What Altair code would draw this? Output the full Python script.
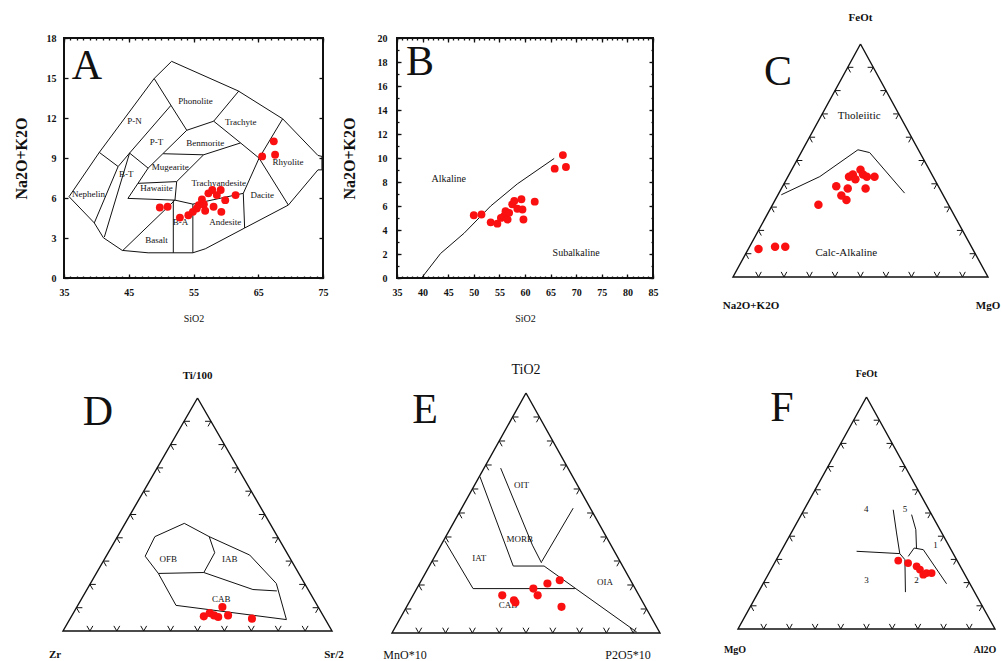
import altair as alt
import pandas as pd

FONT = "Liberation Serif"
RED = "#fa1010"
INK = "#111111"

# ---------------- A : TAS diagram (SiO2 vs Na2O+K2O) ----------------
a_sio2 = [49.8, 51.0, 52.9, 54.2, 54.9, 55.5, 55.8, 56.3, 56.6, 56.8, 57.3, 57.9,
          58.1, 58.6, 59.2, 59.3, 59.9, 61.5, 65.6, 67.4, 67.6]
a_alk = [5.29, 5.34, 4.53, 4.71, 4.96, 5.21, 5.47, 5.89, 5.54, 5.04, 6.35, 6.60,
         5.34, 6.22, 6.60, 4.96, 5.84, 6.22, 9.12, 10.25, 9.24]
a_xticks = [35, 45, 55, 65, 75]
a_yticks = [0, 3, 6, 9, 12, 15, 18]
a_xminor = list(range(35, 76))
a_yminor = []
tas_outline = [(35.78, 6.10), (40.45, 9.42), (48.92, 14.96), (51.62, 16.25), (61.91, 14.03),
               (68.77, 11.94), (74.22, 9.19), (74.84, 9.12), (74.84, 8.11), (74.22, 8.11),
               (69.65, 5.47), (62.90, 3.75), (56.82, 2.19), (54.90, 1.89), (47.99, 1.89),
               (43.99, 2.07), (41.08, 3.02), (39.68, 4.13), (35.78, 6.10)]
tas_bounds = [
    [(40.45, 9.42), (43.36, 8.36), (39.68, 4.13)],
    [(43.36, 8.36), (45.13, 9.37), (51.52, 12.95)],
    [(48.92, 14.96), (51.52, 12.95), (53.96, 11.08)],
    [(45.13, 9.37), (41.23, 3.07)],
    [(45.13, 9.37), (47.99, 8.24)],
    [(53.96, 11.08), (58.12, 11.76), (62.01, 14.03)],
    [(47.99, 8.24), (53.96, 11.08)],
    [(50.32, 9.32), (56.56, 9.24), (62.27, 10.13)],
    [(58.12, 11.76), (62.27, 10.13), (65.13, 8.99)],
    [(68.77, 11.94), (65.13, 8.99)],
    [(65.13, 8.99), (69.65, 5.47)],
    [(65.13, 8.99), (62.69, 6.35), (62.90, 3.75)],
    [(54.90, 5.54), (62.69, 6.35)],
    [(52.14, 5.84), (52.40, 7.23), (56.56, 9.24)],
    [(46.43, 7.10), (52.40, 7.23)],
    [(47.99, 8.24), (44.87, 5.97)],
    [(44.87, 5.97), (52.14, 5.84), (54.90, 5.54)],
    [(44.09, 2.07), (52.14, 5.84)],
    [(51.88, 5.84), (51.88, 1.89)],
    [(54.90, 5.54), (54.90, 1.89)],
]
tas_names = ["Phonolite", "Trachyte", "P-N", "P-T", "Benmorite", "Mugearite", "B-T",
             "Trachyandesite", "Hawaiite", "Nephelin", "Rhyolite", "Dacite", "Andesite",
             "B-A", "Basalt"]
tas_name_sio2 = [55.3, 62.3, 45.9, 49.3, 56.8, 51.4, 44.6, 58.9, 49.3, 38.8, 69.6, 65.6,
                 59.9, 53.0, 49.3]
tas_name_alk = [13.27, 11.7, 11.76, 10.18, 10.13, 8.29, 7.81, 7.15, 6.73, 6.3, 8.69, 6.22,
                4.21, 4.21, 2.82]

# ---------------- B : Alkaline / Subalkaline ----------------
b_sio2 = [50.0, 51.5, 53.3, 54.6, 55.3, 55.9, 56.2, 56.6, 56.9, 57.5, 57.9, 58.5, 59.3,
          59.5, 59.7, 61.9, 65.8, 67.4, 68.0]
b_alk = [5.23, 5.29, 4.64, 4.53, 5.01, 5.15, 5.57, 4.87, 5.43, 6.14, 6.42, 5.77, 6.56,
         5.71, 4.87, 6.36, 9.11, 10.24, 9.25]
b_xticks = [35, 40, 45, 50, 55, 60, 65, 70, 75, 80, 85]
b_yticks = [0, 2, 4, 6, 8, 10, 12, 14, 16, 18, 20]
b_xminor = list(range(35, 86))
b_yminor = list(range(0, 21))
ib_sio2 = [39.8, 43.5, 48.1, 53.3, 58.5, 65.7]
ib_alk = [0.0, 2.04, 3.73, 6.0, 7.84, 9.96]
b_names = ["Alkaline", "Subalkaline"]
b_name_sio2 = [45.1, 70.0]
b_name_alk = [8.26, 2.12]

# ---------------- Ternary data: (top, left, right) in % ----------------
tern_ticks = [0.1, 0.2, 0.3, 0.4, 0.5, 0.6, 0.7, 0.8, 0.9]

# C : AFM  (FeOt, Na2O+K2O, MgO)
c_points = [(12, 84, 4), (13, 77, 10), (13, 73, 14), (31, 51, 18), (39, 40, 21), (38, 36, 26),
            (35, 40, 25), (33, 39, 28), (43, 33, 24), (44, 31, 25), (42, 31, 27), (46, 27, 27),
            (44, 27, 29), (43, 26, 31), (43, 23, 34), (38, 29, 33)]
c_bounds = [[(35.3, 63.4, 1.3), (43.1, 44.4, 12.5), (54.6, 23.7, 21.7), (53.4, 19.7, 26.9),
             (36.0, 14.7, 49.3)]]
c_names = [("Tholeiitic", 69, 16, 15), ("Calc-Alkaline", 10.3, 50.4, 39.3)]

# D : Ti/100 - Zr - Sr/2
d_points = [(6.3, 44.5, 49.2), (7.7, 41.6, 50.7), (6.7, 40.5, 52.8), (6.0, 39.3, 54.7),
            (10.3, 35.6, 54.1), (6.7, 35.3, 58.0), (5.3, 27.1, 67.6)]
d_bounds = [
    [(32.1, 53.4, 14.5), (40.5, 45.6, 13.9), (46.2, 31.8, 22.0), (40.5, 25.4, 34.1),
     (33.6, 26.8, 39.6), (25.1, 35.1, 39.8), (24.7, 52.2, 23.1), (32.1, 53.4, 14.5)],
    [(40.5, 25.4, 34.1), (32.6, 14.3, 53.1), (20.4, 10.5, 69.1), (4.9, 14.5, 80.6)],
    [(25.1, 35.1, 39.8), (17.8, 20.5, 61.7), (17.2, 11.9, 70.9)],
    [(24.7, 52.2, 23.1), (11.0, 52.5, 36.5), (4.9, 14.5, 80.6)],
]
d_names = [("OFB", 31.1, 45.3, 23.6), ("IAB", 31.1, 22.5, 46.4), ("CAB", 13.9, 34.2, 51.9)]

# E : TiO2 - MnO*10 - P2O5*10
e_points = [(15.7, 51.0, 33.3), (13.6, 47.7, 38.7), (12.7, 47.6, 39.7), (18.5, 38.0, 43.5),
            (15.7, 37.8, 46.5), (20.6, 31.7, 47.7), (22.0, 26.4, 51.6), (10.9, 31.3, 57.8)]
e_bounds = [
    [(38.4, 61.1, 0.5), (18.5, 60.5, 21.0), (18.5, 22.5, 59.0)],
    [(65.2, 34.6, 0.2), (27.9, 40.8, 31.3), (27.9, 29.3, 42.8), (0.4, 8.5, 91.1)],
    [(68.7, 25.1, 6.2), (36.6, 29.3, 34.1), (29.2, 29.6, 41.2)],
    [(52.0, 6.4, 41.6), (29.7, 29.3, 41.0)],
]
e_names = [("OIT", 61.7, 20.8, 17.5), ("MORB", 39.0, 32.8, 28.2), ("IAT", 31.1, 51.9, 17.0),
           ("OIA", 21.3, 9.9, 68.8), ("CAB", 11.6, 50.9, 37.5)]

# F : FeOt - MgO - Al2O3
f_points = [(29.5, 22.9, 47.6), (28.4, 19.6, 52.0), (27.0, 17.0, 56.0), (25.6, 16.4, 58.0),
            (23.4, 16.2, 60.4), (24.1, 14.6, 61.3), (24.1, 12.6, 63.3)]
f_bounds = [
    [(33.5, 37.1, 29.4), (32.5, 20.8, 46.7)],
    [(51.4, 13.9, 34.7), (41.4, 17.6, 41.0), (32.5, 20.8, 46.7), (29.9, 20.1, 50.0),
     (15.9, 26.9, 57.2)],
    [(49.3, 7.8, 42.9), (42.8, 9.4, 47.8), (34.9, 13.1, 52.0)],
    [(31.3, 18.1, 50.6), (34.9, 14.0, 51.1), (34.2, 10.8, 55.0), (19.5, 9.1, 71.4)],
]
f_names = [("4", 51.7, 24.2, 24.1), ("5", 51.7, 9.2, 39.1), ("1", 36.4, 4.9, 58.7),
           ("3", 21.3, 39.3, 39.4), ("2", 21.3, 19.9, 58.8)]


# ---------------- helpers ----------------
def tern_xy(p):
    t, l, r = p
    s = t + l + r
    return (r + t / 2) / s, t / s


def line_frame(lines, conv):
    rows = []
    for i, pts in enumerate(lines):
        for j, p in enumerate(pts):
            x, y = conv(p)
            rows.append({"line": i, "ord": j, "x": x, "y": y})
    return pd.DataFrame(rows)


def tick_axes(xsc, ysc, xdom, ydom, xvals, yvals, xorient, yorient, size):
    """Invisible layer whose only purpose is an inward-ticked axis pair."""
    common = dict(labels=False, offset=-size, tickSize=size, tickColor=INK, tickWidth=1.3,
                  domain=False, grid=False, title="")
    return alt.Chart(pd.DataFrame({"x": [xdom[0]], "y": [ydom[0]]})).mark_point(
        opacity=0).encode(
        x=alt.X("x:Q", scale=xsc, axis=alt.Axis(orient=xorient, values=xvals, **common)),
        y=alt.Y("y:Q", scale=ysc, axis=alt.Axis(orient=yorient, values=yvals, **common)))


def xy_panel(width, height, xdom, ydom, xticks, yticks, xminor, yminor, xs, ys, lines,
             names, nx, ny, letter, letter_xy, ylabpad, ytitlepad, name_size):
    xsc = alt.Scale(domain=xdom, nice=False, zero=False)
    ysc = alt.Scale(domain=ydom, nice=False, zero=False)
    X = alt.X("x:Q", scale=xsc,
              axis=alt.Axis(values=xticks, offset=-4, tickSize=4, tickColor=INK, tickWidth=1.3,
                            domain=False, grid=False, labelFont=FONT, labelFontSize=10,
                            labelFontWeight="bold", labelColor=INK, labelPadding=9,
                            labelFlush=False, labelOverlap=False, title="SiO2",
                            titleFont=FONT, titleFontSize=10, titleFontWeight="normal",
                            titleColor=INK, titlePadding=16))
    Y = alt.Y("y:Q", scale=ysc,
              axis=alt.Axis(values=yticks, offset=-4, tickSize=4, tickColor=INK, tickWidth=1.3,
                            domain=False, grid=False, labelFont=FONT, labelFontSize=10,
                            labelFontWeight="bold", labelColor=INK, labelPadding=ylabpad,
                            labelFlush=False, labelOverlap=False, title="Na2O+K2O",
                            titleFont=FONT, titleFontSize=16, titleFontWeight="bold",
                            titleColor=INK, titlePadding=ytitlepad))
    ldf = line_frame(lines, lambda p: p)
    lay_lines = alt.Chart(ldf).mark_line(color=INK, strokeWidth=1).encode(
        x=X, y=Y, detail="line:N", order=alt.Order("ord:Q"))
    ndf = pd.DataFrame({"name": names, "x": nx, "y": ny})
    lay_names = alt.Chart(ndf).mark_text(font=FONT, fontSize=name_size, color=INK).encode(
        x=X, y=Y, text="name:N")
    pdf = pd.DataFrame({"x": xs, "y": ys})
    lay_pts = alt.Chart(pdf).mark_point(filled=True, shape="circle", size=62, color=RED,
                                        opacity=1).encode(x=X, y=Y)
    lay_letter = alt.Chart(pd.DataFrame({"t": [letter]})).mark_text(
        font=FONT, fontSize=42, color=INK, align="center", baseline="middle").encode(
        x=alt.value(letter_xy[0]), y=alt.value(letter_xy[1]), text="t:N")
    inner = alt.layer(lay_lines, lay_names, lay_pts, lay_letter)
    major_tr = tick_axes(xsc, ysc, xdom, ydom, xticks, yticks, "top", "right", 4)
    minor_bl = tick_axes(xsc, ysc, xdom, ydom, xminor, yminor, "bottom", "left", 2)
    minor_tr = tick_axes(xsc, ysc, xdom, ydom, xminor, yminor, "top", "right", 2)
    return alt.layer(inner, major_tr, minor_bl, minor_tr).resolve_scale(
        x="independent", y="independent").properties(
        width=width, height=height, view=alt.ViewBackground(stroke=INK, strokeWidth=2))


def tern_panel(width, height, xdom, ydom, bounds, pts, names, corners, letter, letter_xy,
               psize, nsize):
    X = alt.X("x:Q", scale=alt.Scale(domain=xdom, nice=False, zero=False), axis=None)
    Y = alt.Y("y:Q", scale=alt.Scale(domain=ydom, nice=False, zero=False), axis=None)
    edge = line_frame([[(100, 0, 0), (0, 100, 0), (0, 0, 100), (100, 0, 0)]], tern_xy)
    lay_edge = alt.Chart(edge).mark_line(color=INK, strokeWidth=1.4).encode(
        x=X, y=Y, detail="line:N", order=alt.Order("ord:Q"))
    L = 0.022
    rows = []
    for t in tern_ticks:
        segs = [((0, 1 - t, t), (L, 1 - t - L, t)), ((0, 1 - t, t), (L, 1 - t, t - L)),
                ((t, 1 - t, 0), (t, 1 - t - L, L)), ((t, 1 - t, 0), (t - L, 1 - t, L)),
                ((t, 0, 1 - t), (t, L, 1 - t - L)), ((t, 0, 1 - t), (t - L, L, 1 - t))]
        for a, b in segs:
            x1, y1 = tern_xy(a)
            x2, y2 = tern_xy(b)
            rows.append({"x": x1, "y": y1, "x2": x2, "y2": y2})
    lay_ticks = alt.Chart(pd.DataFrame(rows)).mark_rule(color=INK, strokeWidth=1).encode(
        x=X, y=Y, x2="x2:Q", y2="y2:Q")
    lay_bounds = alt.Chart(line_frame(bounds, tern_xy)).mark_line(
        color=INK, strokeWidth=1).encode(x=X, y=Y, detail="line:N", order=alt.Order("ord:Q"))
    prow = [dict(zip(("x", "y"), tern_xy(p))) for p in pts]
    lay_pts = alt.Chart(pd.DataFrame(prow)).mark_point(
        filled=True, shape="circle", size=psize, color=RED, opacity=1).encode(x=X, y=Y)
    nrow = []
    for n in names:
        x, y = tern_xy(n[1:])
        nrow.append({"name": n[0], "x": x, "y": y})
    lay_names = alt.Chart(pd.DataFrame(nrow)).mark_text(
        font=FONT, fontSize=nsize, color=INK).encode(x=X, y=Y, text="name:N")
    layers = [lay_edge, lay_ticks, lay_bounds, lay_names, lay_pts]
    vertices = [(100, 0, 0), (0, 100, 0), (0, 0, 100)]
    for (txt, size, weight, dx, dy), v in zip(corners, vertices):
        x, y = tern_xy(v)
        layers.append(alt.Chart(pd.DataFrame({"name": [txt], "x": [x], "y": [y]})).mark_text(
            font=FONT, fontSize=size, fontWeight=weight, color=INK, dx=dx, dy=dy,
            baseline="middle").encode(x=X, y=Y, text="name:N"))
    layers.append(alt.Chart(pd.DataFrame({"t": [letter]})).mark_text(
        font=FONT, fontSize=42, color=INK, align="center", baseline="middle").encode(
        x=alt.value(letter_xy[0]), y=alt.value(letter_xy[1]), text="t:N"))
    return alt.layer(*layers).properties(width=width, height=height)


A = xy_panel(259, 240, [35, 75], [0, 18], a_xticks, a_yticks, a_xminor, a_yminor, a_sio2,
             a_alk, [tas_outline] + tas_bounds, tas_names, tas_name_sio2, tas_name_alk,
             "A", (23, 28), 8, 17, 9)
B = xy_panel(256, 240, [35, 85], [0, 20], b_xticks, b_yticks, b_xminor, b_yminor, b_sio2,
             b_alk, [list(zip(ib_sio2, ib_alk))], b_names, b_name_sio2, b_name_alk,
             "B", (23, 24), 10, 20, 10)
C = tern_panel(273, 240, [-0.0235, 1.0471], [-0.0043, 1.0258], c_bounds, c_points, c_names,
               [("FeOt", 11, "bold", 0, -26), ("Na2O+K2O", 11, "bold", 18, 29),
                ("MgO", 11, "bold", 0, 29)], "C", (51, 34), 72, 11)
D = tern_panel(259, 250, [0.0037, 0.9665], [-0.0386, 1.0343], d_bounds, d_points, d_names,
               [("Ti/100", 11, "bold", 0, -22), ("Zr", 11, "bold", -8, 24),
                ("Sr/2", 11, "bold", 2, 24)], "D", (34, 22), 66, 9)
E = tern_panel(256, 250, [0.0187, 0.9739], [-0.0292, 1.0125], e_bounds, e_points, e_names,
               [("TiO2", 14, "normal", 0, -23), ("MnO*10", 12, "normal", 13, 22),
                ("P2O5*10", 12, "normal", -32, 22)], "E", (28, 20), 66, 9)
F = tern_panel(273, 250, [-0.0428, 1.0195], [-0.0474, 1.0302], f_bounds, f_points, f_names,
               [("FeOt", 10, "bold", 0, -23), ("MgO", 10, "bold", -3, 21),
                ("Al2O", 10, "bold", -10, 21)], "F", (55, 18), 60, 9)

row1 = alt.hconcat(A, B, C, spacing=74, bounds="flush")
row2 = alt.hconcat(D, E, F, spacing=74, bounds="flush")
# with flush bounds the first row group counts as zero height, so the gap holds row 1's height
chart = alt.vconcat(row1, row2, spacing=352, bounds="flush").properties(
    autosize=alt.AutoSizeParams(type="none"),
    padding={"left": 64, "top": 38, "right": 938, "bottom": 623},
    background="white",
).configure_view(stroke=None)

chart.save("out.html", embed_options={"renderer": "svg", "actions": False})
